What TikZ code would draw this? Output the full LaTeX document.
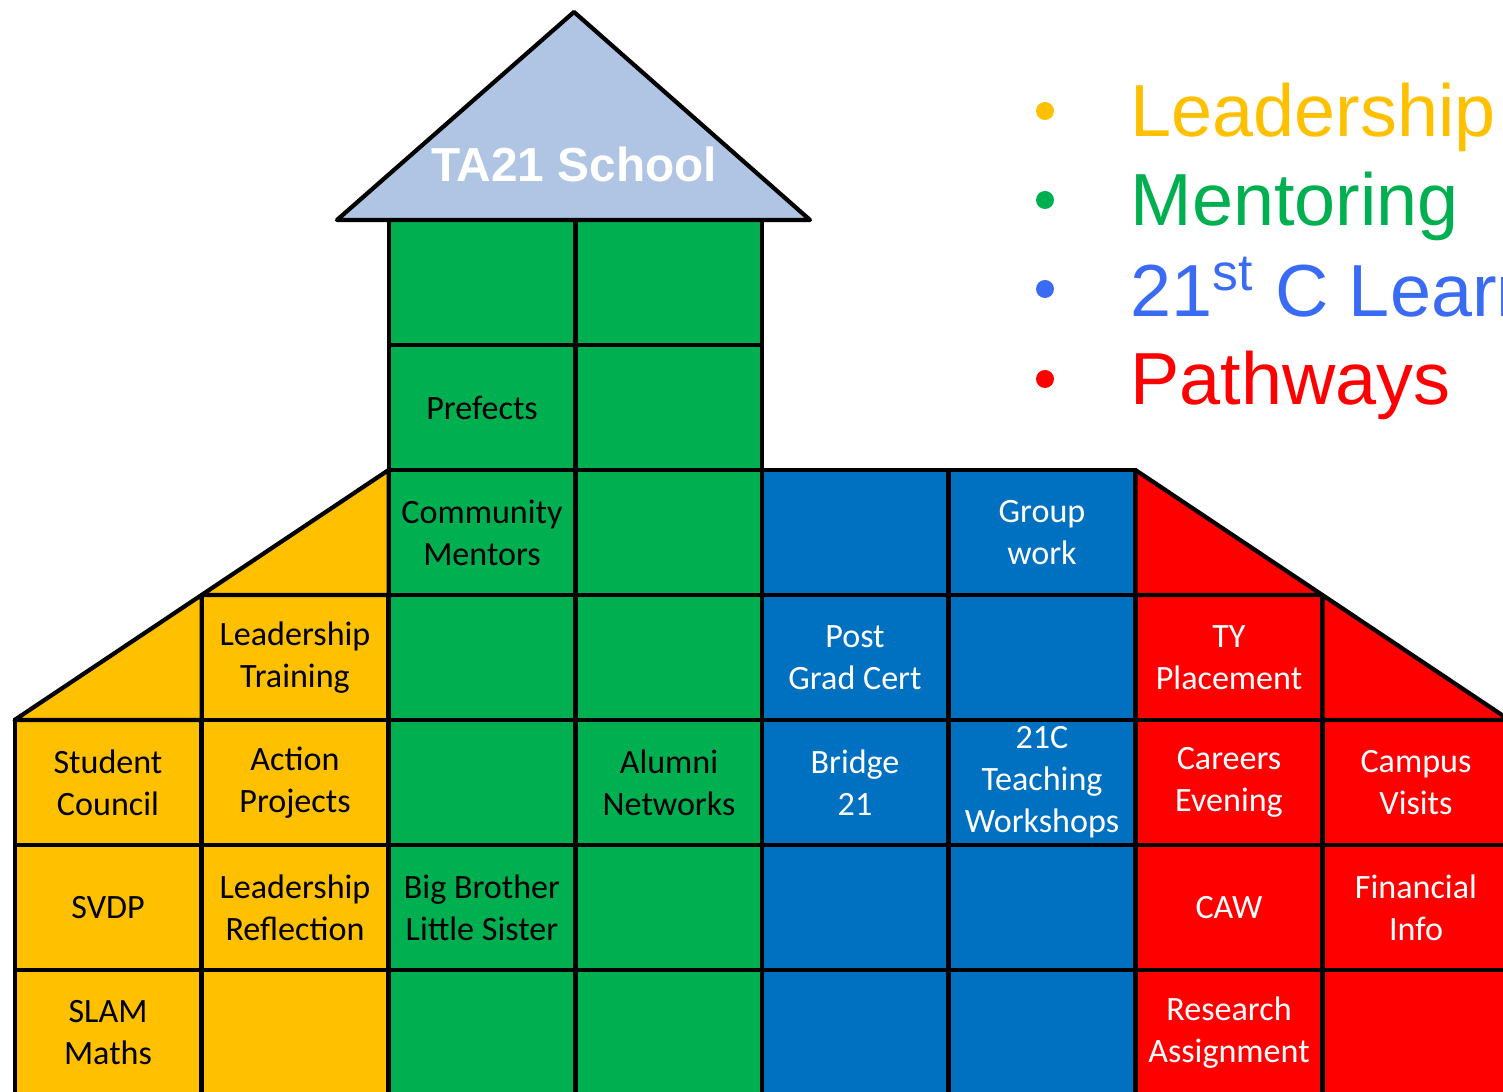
\documentclass[tikz,border=0pt]{standalone}
\usepackage{fontspec}
\setmainfont{Carlito}
\newfontfamily\legendfont{Liberation Sans}
\usetikzlibrary{shapes.geometric}

\definecolor{lyellow}{HTML}{FFC000}
\definecolor{lgreen}{HTML}{00B050}
\definecolor{lblue}{HTML}{0070C0}
\definecolor{lred}{HTML}{FF0000}
\definecolor{roofblue}{HTML}{B0C4E3}
\definecolor{keyblue}{HTML}{3A6BF5}

\tikzset{
    cell/.style={draw, line width=1.2pt, minimum width=1.8675cm, minimum height=1.25cm,
                 inner sep=1pt, outer sep=0pt, align=center,
                 font=\fontsize{9.7pt}{11.95pt}\selectfont},
    yel/.style={cell, fill=lyellow},
    grn/.style={cell, fill=lgreen},
    blu/.style={cell, fill=lblue, text=white},
    rd/.style={cell, fill=lred, text=white},
    key/.style={anchor=base west, inner sep=0pt, font=\legendfont\fontsize{21pt}{25pt}\selectfont},
    dot/.style={circle, inner sep=0pt, minimum size=0.18cm}
}

\begin{document}
\begin{tikzpicture}

            %\draw [help lines] (0,0) grid (15,11);
            \useasboundingbox (0,0) rectangle (15.03,10.92);
            \clip (0,0) rectangle (15.03,10.92);

            % leadership (yellow)
            \path   (1.08,3.095) node (A4) [yel] {Student\\Council}
                    (1.08,1.845) node (A5) [yel] {SVDP}
                    (1.08,0.595) node (A6) [yel] {SLAM\\Maths}
                    (2.95,4.345) node (B3) [yel] {Leadership\\Training}
                    (2.95,3.095) node (B4) [yel] {Action\\Projects}
                    (2.95,1.845) node (B5) [yel] {Leadership\\Reflection}
                    (2.95,0.595) node (B6) [yel] {};

            % mentoring (green)
            \path   (4.82,8.095) node (C0) [grn] {}
                    (4.82,6.845) node (C1) [grn] {Prefects}
                    (4.82,5.595) node (C2) [grn] {Community\\Mentors}
                    (4.82,4.345) node (C3) [grn] {}
                    (4.82,3.095) node (C4) [grn] {}
                    (4.82,1.845) node (C5) [grn] {Big Brother\\Little Sister}
                    (4.82,0.595) node (C6) [grn] {}
                    (6.69,8.095) node (D0) [grn] {}
                    (6.69,6.845) node (D1) [grn] {}
                    (6.69,5.595) node (D2) [grn] {}
                    (6.69,4.345) node (D3) [grn] {}
                    (6.69,3.095) node (D4) [grn] {Alumni\\Networks}
                    (6.69,1.845) node (D5) [grn] {}
                    (6.69,0.595) node (D6) [grn] {};

            % 21st C learning (blue)
            \path   (8.55,5.595) node (E2) [blu] {}
                    (8.55,4.345) node (E3) [blu] {Post\\Grad Cert}
                    (8.55,3.095) node (E4) [blu] {Bridge\\21}
                    (8.55,1.845) node (E5) [blu] {}
                    (8.55,0.595) node (E6) [blu] {}
                    (10.42,5.595) node (F2) [blu] {Group\\work}
                    (10.42,4.345) node (F3) [blu] {}
                    (10.42,3.095) node (F4) [blu] {21C\\Teaching\\Workshops}
                    (10.42,1.845) node (F5) [blu] {}
                    (10.42,0.595) node (F6) [blu] {};

            % pathways (red)
            \path   (12.29,4.345) node (G3) [rd] {TY\\Placement}
                    (12.29,3.095) node (G4) [rd] {Careers\\Evening}
                    (12.29,1.845) node (G5) [rd] {CAW}
                    (12.29,0.595) node (G6) [rd] {Research\\Assignment}
                    (14.16,3.095) node (H4) [rd] {Campus\\Visits}
                    (14.16,1.845) node (H5) [rd] {Financial\\Info}
                    (14.16,0.595) node (H6) [rd] {};

            % sloping walls
            \draw[line width=1.2pt, line join=round, fill=lyellow] (A4.north west) -- (B3.north west) -- (B3.south west) -- cycle;
            \draw[line width=1.2pt, line join=round, fill=lyellow] (B3.north west) -- (C2.north west) -- (C2.south west) -- cycle;
            \draw[line width=1.2pt, line join=round, fill=lred] (F2.north east) -- (G3.north east) -- (G3.north west) -- cycle;
            \draw[line width=1.2pt, line join=round, fill=lred] (G3.north east) -- (H4.north east) -- (H4.north west) -- cycle;

            % roof
            \coordinate (apex) at (5.74,10.80);
            \draw[line width=1.2pt, line join=round, fill=roofblue] (3.37,8.72) -- (apex) -- (8.10,8.72) -- cycle;
            \node (title) [anchor=base, text=white, font=\legendfont\bfseries\fontsize{13.6pt}{16pt}\selectfont] at (5.74,9.10) {TA21 School};

            % key
            \node (d1) [dot, fill=lyellow] at (10.45,9.81) {};
            \node (d2) [dot, fill=lgreen] at (10.45,8.92) {};
            \node (d3) [dot, fill=keyblue] at (10.45,8.03) {};
            \node (d4) [dot, fill=lred] at (10.45,7.13) {};
            \node (k1) [key, text=lyellow] at (11.30,9.55) {Leadership};
            \node (k2) [key, text=lgreen] at (11.30,8.66) {Mentoring};
            \node (k3) [key, text=keyblue] at (11.30,7.75) {21\textsuperscript{st} C Learning};
            \node (k4) [key, text=lred] at (11.30,6.87) {Pathways};

\end{tikzpicture}
\end{document}
